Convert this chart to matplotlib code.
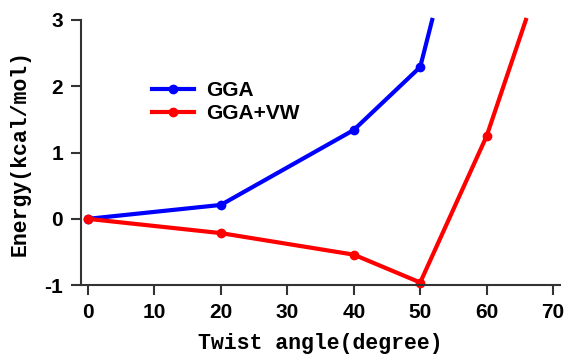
import matplotlib
matplotlib.use("Agg")
import matplotlib.pyplot as plt

plt.rcParams["axes.unicode_minus"] = False

# twist angle (degree) vs energy (kcal/mol); last point of each series runs off the top
angle_gga = [0, 20, 40, 50, 51.8]
energy_gga = [0, 0.21, 1.34, 2.29, 3.0]
angle_vw = [0, 20, 40, 50, 60, 65.9]
energy_vw = [0, -0.215, -0.54, -0.96, 1.25, 3.0]

x_ticks = [0, 10, 20, 30, 40, 50, 60, 70]
y_ticks = [-1, 0, 1, 2, 3]

fig = plt.figure(figsize=(5.66, 3.56), dpi=100)
ax = fig.add_axes([0.143, 0.199, 0.846, 0.745])

ax.plot(angle_gga, energy_gga, color="#0000ff", lw=3, marker="o", ms=6,
        markevery=list(range(len(angle_gga) - 1)), label="GGA", clip_on=False)
ax.plot(angle_vw, energy_vw, color="#ff0000", lw=3, marker="o", ms=6,
        markevery=list(range(len(angle_vw) - 1)), label="GGA+VW", clip_on=False)

ax.set_xlim(-1.05, 71)
ax.set_ylim(-1, 3)
ax.set_xticks(x_ticks)
ax.set_yticks(y_ticks)

for s in ["top", "right"]:
    ax.spines[s].set_visible(False)
for s in ["left", "bottom"]:
    ax.spines[s].set_color("#333333")
    ax.spines[s].set_linewidth(1.5)
ax.tick_params(direction="out", length=7, width=1.5, color="#333333", pad=6)
for lab in ax.get_xticklabels() + ax.get_yticklabels():
    lab.set_family("Liberation Sans")
    lab.set_fontweight("bold")
    lab.set_fontsize(15)

ax.set_xlabel("Twist angle(degree)", family="Liberation Mono", fontweight="bold",
              fontsize=15.5, labelpad=8)
ax.set_ylabel("Energy(kcal/mol)", family="Liberation Mono", fontweight="bold",
              fontsize=15.5, labelpad=10)

ax.legend(loc="upper left", bbox_to_anchor=(0.11, 0.84), frameon=False,
          handlelength=2.0, handletextpad=0.6, labelspacing=0.2,
          prop={"family": "Liberation Sans", "weight": "bold", "size": 15})

fig.savefig("out.png", dpi=100)
